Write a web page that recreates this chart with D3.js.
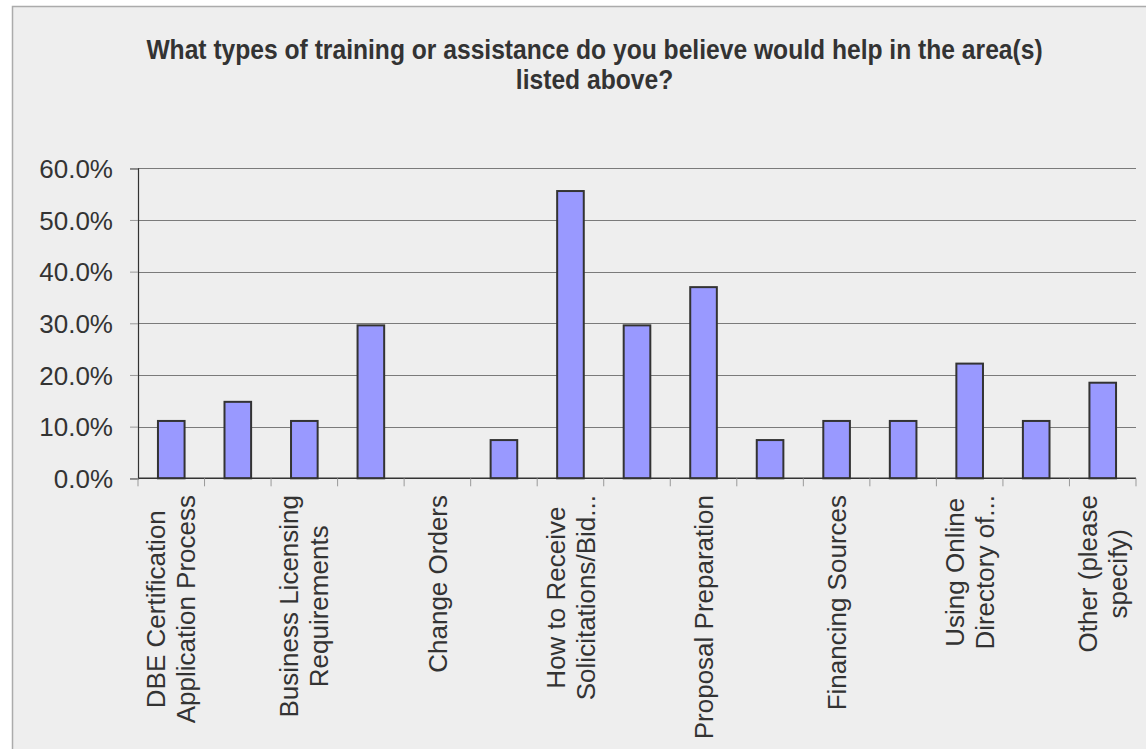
<!DOCTYPE html>
<html><head><meta charset="utf-8">
<script src="https://cdn.jsdelivr.net/npm/d3@7"></script>
<style>html,body{margin:0;padding:0;background:#fff;overflow:hidden}</style>
</head><body>
<svg id="chart" width="1146" height="749"></svg>
<script>
// ---- data ----
const titleLines = ["What types of training or assistance do you believe would help in the area(s)", "listed above?"];
// Only every other category label is shown on the reference axis (null = label not displayed)
const categories = [
  "DBE Certification\nApplication Process", null,
  "Business Licensing\nRequirements", null,
  "Change Orders", null,
  "How to Receive\nSolicitations/Bid...", null,
  "Proposal Preparation", null,
  "Financing Sources", null,
  "Using Online\nDirectory of...", null,
  "Other (please\nspecify)"
];
const values = [0.111, 0.148, 0.111, 0.296, 0.0, 0.074, 0.556, 0.296, 0.370, 0.074, 0.111, 0.111, 0.222, 0.111, 0.185];
const yTicks = [0, 0.1, 0.2, 0.3, 0.4, 0.5, 0.6];

// ---- layout ----
const W = 1146, H = 749;
const plot = {left: 138, right: 1136, top: 168.3, bottom: 478.3};
const FONT = "'Liberation Sans', Arial, Helvetica, sans-serif";
const TEXT = "#333333";

const svg = d3.select("#chart");

// chart area
svg.append("rect")
  .attr("x", 12.5).attr("y", 6.5)
  .attr("width", W + 50).attr("height", H + 50)
  .attr("fill", "#eeeeee")
  .attr("stroke", "#ababab").attr("stroke-width", 1.5);

// title
const tg = svg.append("g").attr("font-family", FONT).attr("font-weight", "bold")
  .attr("font-size", 27).attr("fill", TEXT);
const titleTexts = titleLines.map((t, i) =>
  tg.append("text").attr("x", 0).attr("y", 59 + i * 30).attr("text-anchor", "middle").text(t));
const natural = titleTexts[0].node().getComputedTextLength();
const sx = 897 / natural;
tg.attr("transform", `translate(594.5,0) scale(${sx},1)`);

// scales
const x = d3.scaleBand().domain(d3.range(categories.length))
  .range([plot.left, plot.right]).paddingInner(0.6).paddingOuter(0.3);
const y = d3.scaleLinear().domain([0, 0.6]).range([plot.bottom, plot.top]);

// gridlines
svg.append("g").selectAll("line").data(yTicks.filter(d => d > 0)).join("line")
  .attr("x1", plot.left).attr("x2", plot.right)
  .attr("y1", d => Math.round(y(d)) + 0.5).attr("y2", d => Math.round(y(d)) + 0.5)
  .attr("stroke", "#7a7a7a").attr("stroke-width", 1);

// y axis
const yAxis = svg.append("g").attr("transform", `translate(${plot.left},0)`)
  .call(d3.axisLeft(y).tickValues(yTicks).tickFormat(d3.format(".1%")).tickSize(8).tickPadding(17));
yAxis.select(".domain").attr("stroke", "#333").attr("stroke-width", 1.2);
yAxis.selectAll(".tick line").attr("stroke", "#999");
yAxis.selectAll(".tick text").attr("font-family", FONT).attr("font-size", 26)
  .attr("fill", TEXT).attr("dy", "0.35em");

// bars
svg.append("g").selectAll("rect").data(values.map((v, i) => ({v, i})).filter(d => d.v > 0)).join("rect")
  .attr("x", d => x(d.i)).attr("width", x.bandwidth())
  .attr("y", d => y(d.v)).attr("height", d => y(0) - y(d.v))
  .attr("fill", "#9999ff").attr("stroke", "#333333").attr("stroke-width", 2);

// x axis line
svg.append("line").attr("x1", plot.left).attr("x2", plot.right)
  .attr("y1", y(0)).attr("y2", y(0)).attr("stroke", "#333").attr("stroke-width", 1.5);

// x ticks at category boundaries
const step = x.step();
svg.append("g").selectAll("line").data(d3.range(categories.length + 1)).join("line")
  .attr("x1", k => plot.left + k * step).attr("x2", k => plot.left + k * step)
  .attr("y1", y(0)).attr("y2", y(0) + 8)
  .attr("stroke", "#999").attr("stroke-width", 1);

// x labels (rotated, multi-line, centered lines, top-aligned block)
const labelTop = 495;
categories.forEach((c, i) => {
  if (!c) return;
  const cx = x(i) + x.bandwidth() / 2;
  const lines = c.split("\n");
  const g = svg.append("g").attr("transform", `translate(${cx},${labelTop}) rotate(-90)`)
    .attr("font-family", FONT).attr("font-size", 26).attr("fill", TEXT);
  const ts = lines.map((l, j) => g.append("text")
    .attr("y", (j - (lines.length - 1) / 2) * 30).attr("dy", "0.35em")
    .attr("text-anchor", "middle").text(l));
  const maxW = d3.max(ts, t => t.node().getComputedTextLength());
  ts.forEach(t => t.attr("x", -maxW / 2));
});
</script>
</body></html>
